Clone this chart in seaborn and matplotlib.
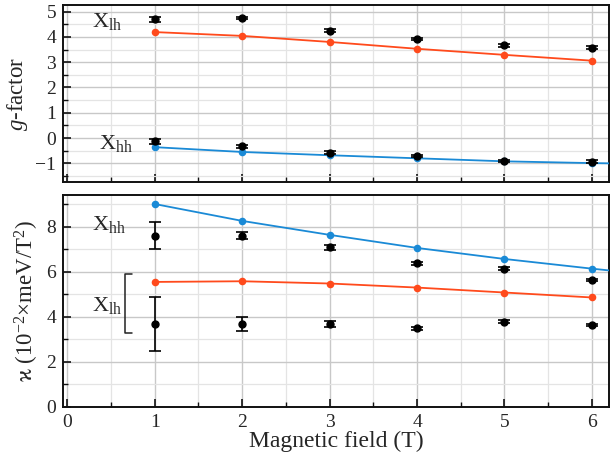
import numpy as np
import pandas as pd
import matplotlib
matplotlib.use("Agg")
import matplotlib.pyplot as plt
from matplotlib.ticker import MultipleLocator
import seaborn as sns

# =========================
# DATA
# =========================
field = [1, 2, 3, 4, 5, 6]

# g-factor, measured (black) and calculated (coloured)
g_lh_exp = [4.70, 4.74, 4.25, 3.91, 3.66, 3.58]
g_lh_err = [0.10, 0.05, 0.05, 0.05, 0.05, 0.05]
g_hh_exp = [-0.13, -0.33, -0.58, -0.71, -0.91, -0.93]
g_hh_err = [0.10, 0.05, 0.05, 0.05, 0.05, 0.05]
g_lh_calc = [4.19, 4.04, 3.80, 3.53, 3.29, 3.06]
g_hh_calc = [-0.36, -0.55, -0.68, -0.80, -0.92, -0.99]
g_hh_line_x = [1, 2, 3, 4, 5, 6, 6.2]
g_hh_line_y = [-0.36, -0.55, -0.68, -0.80, -0.92, -0.99, -1.00]

# diamagnetic coefficient kappa (10^-2 meV/T^2)
k_hh_exp = [7.60, 7.59, 7.08, 6.36, 6.13, 5.62]
k_hh_err = [0.60, 0.15, 0.10, 0.08, 0.06, 0.06]
k_lh_exp = [3.68, 3.68, 3.68, 3.48, 3.78, 3.63]
k_lh_err = [1.20, 0.31, 0.12, 0.07, 0.06, 0.06]
k_hh_calc = [9.00, 8.25, 7.63, 7.05, 6.56, 6.13]
k_lh_calc = [5.54, 5.57, 5.47, 5.29, 5.07, 4.85]
k_hh_line_x = [1, 2, 3, 4, 5, 6, 6.2]
k_hh_line_y = [9.00, 8.25, 7.63, 7.05, 6.56, 6.13, 6.05]

ORANGE = "#ff4a1c"
BLUE = "#1a8ad6"

# =========================
# SETTINGS
# =========================
sns.set_theme(style="whitegrid")
plt.rcParams["font.family"] = ["Liberation Serif", "DejaVu Serif"]
plt.rcParams["mathtext.fontset"] = "custom"
plt.rcParams["mathtext.rm"] = "Liberation Serif"
plt.rcParams["mathtext.it"] = "Liberation Serif:italic"

fig = plt.figure(figsize=(6.14, 4.55), dpi=100)
ax1 = fig.add_axes([0.1026, 0.5993, 0.8898, 0.3891])
ax2 = fig.add_axes([0.1026, 0.1062, 0.8898, 0.4652])


def style_axis(ax):
    ax.set_xlim(-0.05, 6.2)
    ax.xaxis.set_major_locator(MultipleLocator(1))
    ax.xaxis.set_minor_locator(MultipleLocator(0.5))
    ax.grid(which="major", color="#c8c8c8", linewidth=1.0)
    ax.grid(which="minor", color="#e4e4e4", linewidth=0.9)
    ax.set_facecolor("white")
    for s in ax.spines.values():
        s.set_color("#111111")
        s.set_linewidth(1.4)
    ax.tick_params(which="major", direction="in", length=6, width=1.2,
                   color="#111111", labelsize=14, left=True, bottom=True,
                   pad=5)
    ax.tick_params(which="minor", direction="in", length=3.5, width=1.0,
                   color="#111111", left=True, bottom=True)
    ax.set_axisbelow(True)


def draw_calc(ax, x, y, lx, ly, color):
    sns.lineplot(x=lx, y=ly, ax=ax, color=color, linewidth=1.3, zorder=3)
    sns.scatterplot(x=x, y=y, ax=ax, color=color, s=30, edgecolor=color,
                    linewidth=0, zorder=4)


def draw_exp(ax, x, y, err):
    ax.errorbar(x, y, yerr=err, fmt="o", color="black", markersize=5,
                capsize=4, elinewidth=1.2, capthick=1.2, zorder=5)


# top panel: g-factor
style_axis(ax1)
draw_calc(ax1, field, g_lh_calc, field, g_lh_calc, ORANGE)
draw_calc(ax1, field, g_hh_calc, g_hh_line_x, g_hh_line_y, BLUE)
draw_exp(ax1, field, g_lh_exp, g_lh_err)
draw_exp(ax1, field, g_hh_exp, g_hh_err)
ax1.set_ylim(-1.75, 5.25)
ax1.yaxis.set_major_locator(MultipleLocator(1))
ax1.yaxis.set_minor_locator(MultipleLocator(0.5))
ax1.tick_params(labelbottom=False)
ax1.set_ylabel(r"$\it{g}$-factor", fontsize=16.5, labelpad=4)
ax1.set_xlabel("")
ax1.text(0.28, 4.6, r"X$_{\mathrm{lh}}$", fontsize=16, ha="left", va="center")
ax1.text(0.36, -0.2, r"X$_{\mathrm{hh}}$", fontsize=16, ha="left", va="center")

# bottom panel: kappa
style_axis(ax2)
draw_calc(ax2, field, k_hh_calc, k_hh_line_x, k_hh_line_y, BLUE)
draw_calc(ax2, field, k_lh_calc, field, k_lh_calc, ORANGE)
draw_exp(ax2, field, k_hh_exp, k_hh_err)
draw_exp(ax2, field, k_lh_exp, k_lh_err)
ax2.set_ylim(0, 9.4)
ax2.yaxis.set_major_locator(MultipleLocator(2))
ax2.yaxis.set_minor_locator(MultipleLocator(1))
ax2.set_xlabel("Magnetic field (T)", fontsize=17, labelpad=0)
ax2.set_ylabel("ϰ (10$^{-2}$×meV/T$^{2}$)", fontsize=16.5, labelpad=4)
ax2.text(0.28, 8.1, r"X$_{\mathrm{hh}}$", fontsize=16, ha="left", va="center")
ax2.text(0.28, 4.5, r"X$_{\mathrm{lh}}$", fontsize=16, ha="left", va="center")
# bracket grouping the lh points
ax2.plot([0.745, 0.655, 0.655, 0.745], [5.91, 5.91, 3.28, 3.28],
         color="#222222", linewidth=1.1, zorder=3)

fig.savefig("out.png", dpi=100)
